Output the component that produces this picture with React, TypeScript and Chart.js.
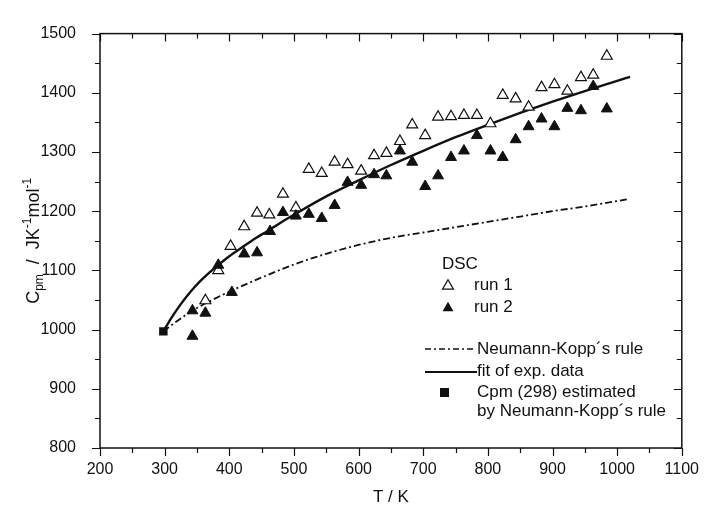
import React, { useEffect, useRef } from 'react';
import { Chart, registerables } from 'chart.js';
Chart.register(...registerables);

// ---- data ----
const run1T = [363, 383, 402, 423, 443, 462, 483, 503, 523, 543, 563, 583, 604, 624, 643, 664, 683, 703, 723, 743, 763, 783, 804, 823, 843, 863, 883, 903, 923, 944, 963, 984];
const run1Cp = [1049, 1100, 1141, 1174, 1197, 1194, 1229, 1206, 1271, 1264, 1283, 1279, 1268, 1294, 1298, 1318, 1346, 1328, 1359, 1360, 1362, 1362, 1348, 1396, 1390, 1376, 1409, 1414, 1403, 1426, 1430, 1462];

const run2T = [343, 343, 363, 383, 404, 423, 443, 463, 483, 503, 523, 543, 563, 583, 604, 624, 643, 664, 683, 703, 723, 743, 763, 783, 804, 823, 843, 863, 883, 903, 923, 944, 963, 984];
const run2Cp = [989, 1032, 1028, 1109, 1063, 1128, 1130, 1166, 1198, 1192, 1195, 1188, 1210, 1249, 1244, 1262, 1260, 1302, 1283, 1242, 1260, 1291, 1302, 1328, 1302, 1291, 1321, 1343, 1356, 1343, 1374, 1370, 1411, 1373];

const fitT = [298, 310, 325, 340, 355, 370, 385, 400, 420, 440, 460, 480, 500, 550, 600, 650, 700, 750, 800, 850, 900, 950, 1000, 1020];
const fitCp = [997, 1019, 1043, 1064, 1082, 1097, 1111, 1124, 1139, 1154, 1167, 1181, 1194, 1225, 1252, 1278, 1302, 1325, 1346, 1366, 1385, 1403, 1420, 1427];

const nkT = [298, 320, 343, 370, 404, 450, 500, 550, 600, 650, 700, 750, 800, 850, 900, 950, 1015];
const nkCp = [997, 1015, 1032, 1048, 1066, 1088, 1110, 1128, 1143, 1155, 1164, 1173, 1182, 1191, 1200, 1208, 1220];

const estT = [298];
const estCp = [997];

const xMin = 200, xMax = 1100, xStep = 100, xMinorStep = 50;
const yMin = 800, yMax = 1500, yStep = 100, yMinorStep = 50;

const xTitle = 'T / K';
const legendHeader = 'DSC';
const legendRun1 = 'run 1';
const legendRun2 = 'run 2';
const legendNK = 'Neumann-Kopp\u00b4s rule';
const legendFit = 'fit of exp. data';
const legendEst1 = 'Cpm (298) estimated';
const legendEst2 = 'by Neumann-Kopp\u00b4s rule';

const FONT = '"Liberation Sans", Arial, Helvetica, sans-serif';
const INK = '#111';

const toXY = (xs: number[], ys: number[]) => xs.map((x, i) => ({ x, y: ys[i] }));

function triangle(ctx: CanvasRenderingContext2D, x: number, y: number, r: number, filled: boolean) {
  ctx.beginPath();
  for (let k = 0; k < 3; k++) {
    const a = (k * 2 * Math.PI) / 3;
    const px = x + Math.sin(a) * r;
    const py = y - Math.cos(a) * r;
    if (k === 0) ctx.moveTo(px, py); else ctx.lineTo(px, py);
  }
  ctx.closePath();
  if (filled) { ctx.fillStyle = INK; ctx.fill(); }
  else { ctx.fillStyle = '#fff'; ctx.fill(); ctx.strokeStyle = INK; ctx.lineWidth = 1.2; ctx.stroke(); }
}

const framePlugin = {
  id: 'frame',
  afterDraw(chart: any) {
    const { ctx, chartArea: a, scales } = chart;
    const xs = scales.x, ys = scales.y;
    ctx.save();
    ctx.strokeStyle = INK;
    ctx.lineWidth = 1.5;
    ctx.strokeRect(a.left, a.top, a.right - a.left, a.bottom - a.top);
    ctx.lineWidth = 1.2;
    ctx.beginPath();
    for (let v = xMin; v <= xMax; v += xMinorStep) {
      const major = (v - xMin) % xStep === 0;
      const len = major ? 8 : 5;
      const px = Math.round(xs.getPixelForValue(v)) + 0.5;
      ctx.moveTo(px, a.bottom); ctx.lineTo(px, a.bottom + len);
      ctx.moveTo(px, a.top); ctx.lineTo(px, a.top + len);
    }
    for (let v = yMin; v <= yMax; v += yMinorStep) {
      const major = (v - yMin) % yStep === 0;
      const len = major ? 8 : 5;
      const py = Math.round(ys.getPixelForValue(v)) + 0.5;
      ctx.moveTo(a.left, py); ctx.lineTo(a.left - len, py);
      ctx.moveTo(a.right, py); ctx.lineTo(a.right - len, py);
    }
    ctx.stroke();

    // x axis title
    ctx.fillStyle = INK;
    ctx.font = `17px ${FONT}`;
    ctx.textAlign = 'center';
    ctx.textBaseline = 'middle';
    ctx.fillText(xTitle, (a.left + a.right) / 2, 497);

    // y axis title with sub/superscripts, rotated
    const parts: { t: string; s: number; dy: number }[] = [
      { t: 'C', s: 18, dy: 0 },
      { t: 'pm', s: 12, dy: 4 },
      { t: '  /  JK', s: 18, dy: 0 },
      { t: '-1', s: 12, dy: -8 },
      { t: 'mol', s: 18, dy: 0 },
      { t: '-1', s: 12, dy: -8 },
    ];
    let total = 0;
    for (const p of parts) { ctx.font = `${p.s}px ${FONT}`; total += ctx.measureText(p.t).width; }
    ctx.translate(33, (a.top + a.bottom) / 2);
    ctx.rotate(-Math.PI / 2);
    ctx.textAlign = 'left';
    ctx.textBaseline = 'alphabetic';
    let cx = -total / 2;
    for (const p of parts) {
      ctx.font = `${p.s}px ${FONT}`;
      ctx.fillText(p.t, cx, 6 + p.dy);
      cx += ctx.measureText(p.t).width;
    }
    ctx.restore();
  },
};

const legendPlugin = {
  id: 'customLegend',
  afterDraw(chart: any) {
    const { ctx } = chart;
    ctx.save();
    ctx.fillStyle = INK;
    ctx.font = `17px ${FONT}`;
    ctx.textAlign = 'left';
    ctx.textBaseline = 'middle';
    const tx = 477;
    ctx.fillText(legendHeader, 442, 264);
    triangle(ctx, 448, 286, 6.3, false);
    ctx.fillStyle = INK;
    ctx.fillText(legendRun1, 474, 285);
    triangle(ctx, 448, 308, 6.3, true);
    ctx.fillText(legendRun2, 474, 307);

    ctx.strokeStyle = INK;
    ctx.lineWidth = 1.6;
    ctx.setLineDash([6, 3, 2, 3]);
    ctx.beginPath(); ctx.moveTo(425, 349); ctx.lineTo(473, 349); ctx.stroke();
    ctx.setLineDash([]);
    ctx.fillText(legendNK, tx, 349);

    ctx.lineWidth = 2.2;
    ctx.beginPath(); ctx.moveTo(425, 372); ctx.lineTo(477, 372); ctx.stroke();
    ctx.fillText(legendFit, tx, 371);

    ctx.fillRect(440, 388, 9, 9);
    ctx.fillText(legendEst1, tx, 392);
    ctx.fillText(legendEst2, tx, 411);
    ctx.restore();
  },
};

export default function App() {
  const ref = useRef<HTMLCanvasElement>(null);
  useEffect(() => {
    document.body.style.margin = '0';
    const canvas = ref.current!;
    const chart = new Chart(canvas, {
      type: 'scatter',
      data: {
        datasets: [
          {
            label: 'Neumann-Kopp',
            data: toXY(nkT, nkCp),
            showLine: true,
            borderColor: INK,
            borderWidth: 1.8,
            borderDash: [7, 3, 2, 3],
            pointRadius: 0,
            cubicInterpolationMode: 'monotone',
            order: 5,
          } as any,
          {
            label: 'fit',
            data: toXY(fitT, fitCp),
            showLine: true,
            borderColor: INK,
            borderWidth: 2.4,
            pointRadius: 0,
            cubicInterpolationMode: 'monotone',
            order: 4,
          } as any,
          {
            label: 'run 1',
            data: toXY(run1T, run1Cp),
            pointStyle: 'triangle',
            pointRadius: 6.3,
            pointBackgroundColor: '#fff',
            pointBorderColor: INK,
            pointBorderWidth: 1.2,
            order: 3,
          } as any,
          {
            label: 'run 2',
            data: toXY(run2T, run2Cp),
            pointStyle: 'triangle',
            pointRadius: 6.3,
            pointBackgroundColor: INK,
            pointBorderColor: INK,
            pointBorderWidth: 1,
            order: 2,
          } as any,
          {
            label: 'estimated',
            data: toXY(estT, estCp),
            pointStyle: 'rect',
            pointRadius: 6,
            pointBackgroundColor: INK,
            pointBorderColor: INK,
            pointBorderWidth: 0,
            order: 1,
          } as any,
        ],
      },
      options: {
        responsive: false,
        animation: false,
        devicePixelRatio: 1,
        events: [],
        layout: { padding: { top: 17, right: 22, left: 0, bottom: 0 } },
        plugins: { legend: { display: false }, tooltip: { enabled: false } },
        scales: {
          x: {
            type: 'linear',
            min: xMin,
            max: xMax,
            grid: { display: false, drawTicks: false },
            border: { display: false },
            ticks: { stepSize: xStep, color: INK, font: { family: FONT, size: 16 }, padding: 12, maxRotation: 0, callback: (v: any) => String(v) },
            afterFit: (s: any) => { s.height = 66; },
          },
          y: {
            type: 'linear',
            min: yMin,
            max: yMax,
            grid: { display: false, drawTicks: false },
            border: { display: false },
            ticks: { stepSize: yStep, color: INK, font: { family: FONT, size: 16 }, padding: 24, callback: (v: any) => String(v) },
            afterFit: (s: any) => { s.width = 100; },
          },
        },
      } as any,
      plugins: [framePlugin, legendPlugin],
    });
    return () => chart.destroy();
  }, []);
  return <canvas ref={ref} width={711} height={514} style={{ display: 'block' }} />;
}
